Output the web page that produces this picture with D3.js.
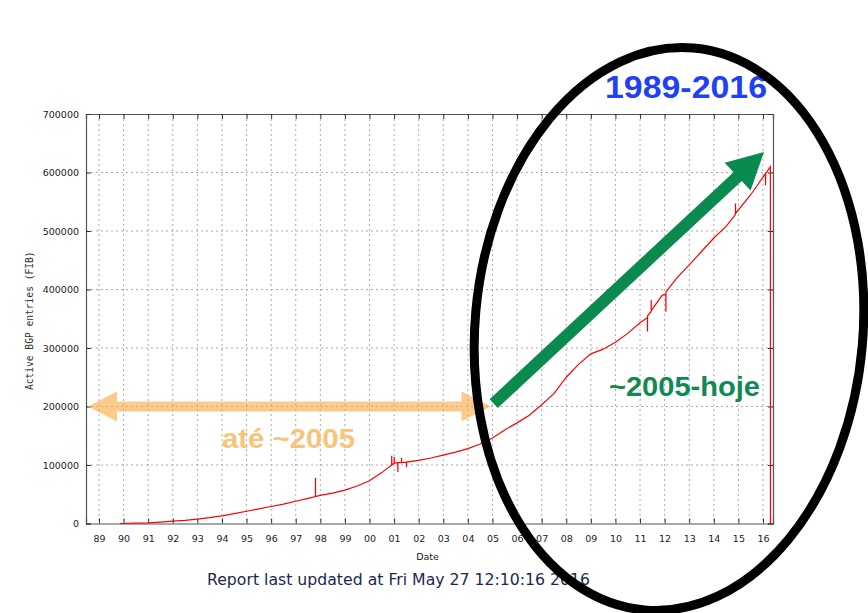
<!DOCTYPE html>
<html>
<head>
<meta charset="utf-8">
<script src="https://cdn.jsdelivr.net/npm/d3@7"></script>
<style>
  body { margin: 0; background: #fff; }
  svg { display: block; }
</style>
</head>
<body>
<div id="chart"></div>
<script>
// BGP table size (decimal year, active entries)
const years = [1989.85, 1990.5, 1991.0, 1991.5, 1992.0, 1992.5, 1993.0, 1993.5, 1994.0, 1994.5,
  1995.0, 1995.5, 1996.0, 1996.5, 1997.0, 1997.5, 1997.8, 1997.803, 1997.806, 1998.0,
  1998.5, 1999.0, 1999.5, 2000.0, 2000.5, 2000.9, 2000.903, 2000.906, 2001.0, 2001.003,
  2001.006, 2001.15, 2001.153, 2001.156, 2001.3, 2001.303, 2001.306, 2001.5, 2001.503, 2001.506,
  2002.0, 2002.5, 2003.0, 2003.5, 2004.0, 2004.5, 2005.0, 2005.5, 2006.0, 2006.5,
  2007.0, 2007.5, 2008.0, 2008.5, 2009.0, 2009.5, 2010.0, 2010.5, 2011.0, 2011.3,
  2011.303, 2011.306, 2011.45, 2011.453, 2011.456, 2011.9, 2012.05, 2012.053, 2012.056, 2012.5,
  2013.0, 2013.5, 2014.0, 2014.5, 2014.88, 2014.883, 2014.886, 2015.5, 2016.1, 2016.103,
  2016.106, 2016.3, 2016.303];
const entries = [0, 500, 1000, 2500, 4000, 5500, 7500, 10000, 13000, 17000,
  21000, 25000, 29000, 33000, 38000, 43000, 46000, 78000, 46000, 48000,
  52000, 57000, 64000, 73000, 87000, 100000, 116000, 100000, 103000, 114000,
  103000, 104000, 88000, 104000, 104000, 112000, 104000, 105000, 96000, 105000,
  108000, 112000, 117000, 122000, 128000, 136000, 146000, 160000, 172000, 185000,
  203000, 222000, 250000, 272000, 290000, 298000, 310000, 325000, 343000, 352000,
  328000, 355000, 362000, 382000, 364000, 390000, 392000, 362000, 396000, 420000,
  442000, 465000, 488000, 508000, 528000, 547000, 530000, 562000, 598000, 578000,
  598000, 610000, 0];

const yearTicks = d3.range(1989, 2017);
const yearLabels = yearTicks.map(y => String(y % 100).padStart(2, "0"));
const entryTicks = [0, 100000, 200000, 300000, 400000, 500000, 600000, 700000];

const W = 868, H = 613;
const plot = {left: 86, right: 773, top: 114, bottom: 523.5};

const svg = d3.select("#chart").append("svg")
  .attr("width", W).attr("height", H);

const x = d3.scaleLinear().domain([1988.471, 2016.407]).range([plot.left, plot.right]);
const y = d3.scaleLinear().domain([0, 700000]).range([plot.bottom, plot.top]);

const tickFont = "DejaVu Sans, sans-serif";

// dotted grid
svg.append("g")
  .selectAll("line.vx").data(yearTicks).join("line")
  .attr("x1", d => x(d)).attr("x2", d => x(d))
  .attr("y1", plot.top).attr("y2", plot.bottom)
  .attr("stroke", "#aaa").attr("stroke-width", 1).attr("stroke-dasharray", "2,3");
svg.append("g")
  .selectAll("line.hy").data(entryTicks.slice(1, -1)).join("line")
  .attr("x1", plot.left).attr("x2", plot.right)
  .attr("y1", d => y(d)).attr("y2", d => y(d))
  .attr("stroke", "#aaa").attr("stroke-width", 1).attr("stroke-dasharray", "2,3");

// axes, ticks inward and mirrored like gnuplot
svg.append("g")
  .attr("transform", `translate(0,${plot.bottom})`)
  .call(d3.axisBottom(x).tickValues(yearTicks).tickSize(-5).tickPadding(12)
    .tickFormat((d, i) => yearLabels[i]));
svg.append("g")
  .attr("transform", `translate(0,${plot.top})`)
  .call(d3.axisTop(x).tickValues(yearTicks).tickSize(-5).tickFormat(""));
svg.append("g")
  .attr("transform", `translate(${plot.left},0)`)
  .call(d3.axisLeft(y).tickValues(entryTicks).tickSize(-5).tickPadding(7).tickFormat(d3.format("d")));
svg.append("g")
  .attr("transform", `translate(${plot.right},0)`)
  .call(d3.axisRight(y).tickValues(entryTicks).tickSize(-5).tickFormat(""));

svg.selectAll(".domain").attr("stroke", "#555").attr("stroke-width", 1.2);
svg.selectAll(".tick line").attr("stroke", "#333");
svg.selectAll(".tick text")
  .attr("font-family", tickFont).attr("font-size", 9.5).attr("fill", "#222");

// the data line
svg.append("path")
  .datum(years.map((d, i) => [d, entries[i]]))
  .attr("fill", "none")
  .attr("stroke", "#ff0000")
  .attr("stroke-width", 1.2)
  .attr("d", d3.line().x(d => x(d[0])).y(d => y(d[1])));

// axis titles
svg.append("text")
  .attr("x", (plot.left + plot.right) / 2 - 2).attr("y", 560)
  .attr("text-anchor", "middle")
  .attr("font-family", tickFont).attr("font-size", 9.5).attr("fill", "#222")
  .text("Date");

svg.append("text")
  .attr("transform", `translate(33,${(plot.top + plot.bottom) / 2 + 2}) rotate(-90)`)
  .attr("text-anchor", "middle")
  .attr("font-family", "DejaVu Sans Mono, monospace").attr("font-size", 9.6).attr("fill", "#333")
  .text("Active BGP entries (FIB)");

svg.append("text")
  .attr("x", 207).attr("y", 585)
  .attr("font-family", tickFont).attr("font-size", 15).attr("fill", "#1c2850")
  .attr("textLength", 383).attr("lengthAdjust", "spacingAndGlyphs")
  .text("Report last updated at Fri May 27 12:10:16 2016");

// arrows
function arrowPath(x0, y0, x1, y1, shaft, headW, headL) {
  const dx = x1 - x0, dy = y1 - y0, len = Math.hypot(dx, dy);
  const ux = dx / len, uy = dy / len, px = -uy, py = ux;
  const pt = (a, b) => [x0 + ux * a + px * b, y0 + uy * a + py * b];
  return [pt(0, -shaft / 2), pt(len - headL, -shaft / 2), pt(len - headL, -headW / 2),
    pt(len, 0), pt(len - headL, headW / 2), pt(len - headL, shaft / 2), pt(0, shaft / 2)];
}
function doubleArrow(x0, x1, yy, shaft, headH, headL) {
  return [[x0, yy], [x0 + headL, yy - headH / 2], [x0 + headL, yy - shaft / 2],
    [x1 - headL, yy - shaft / 2], [x1 - headL, yy - headH / 2], [x1, yy],
    [x1 - headL, yy + headH / 2], [x1 - headL, yy + shaft / 2],
    [x0 + headL, yy + shaft / 2], [x0 + headL, yy + headH / 2]];
}
const poly = d3.line();

svg.append("path")
  .attr("d", poly(doubleArrow(x(1988.55), x(2004.92), y(200000), 10, 30, 29)) + "Z")
  .attr("fill", "#f9a640").attr("opacity", 0.6);

svg.append("text")
  .attr("x", 222).attr("y", 448)
  .attr("font-family", "Liberation Sans, Arial, sans-serif").attr("font-weight", "bold")
  .attr("font-size", 28).attr("fill", "#fbc37a")
  .attr("textLength", 133).attr("lengthAdjust", "spacingAndGlyphs")
  .text("até ~2005");

svg.append("path")
  .attr("d", poly(arrowPath(x(2005.05), y(205000), x(2016.04), y(635000), 12, 38, 36)) + "Z")
  .attr("fill", "#0b8a4f");

svg.append("text")
  .attr("x", 609).attr("y", 396)
  .attr("font-family", "Liberation Sans, Arial, sans-serif").attr("font-weight", "bold")
  .attr("font-size", 27).attr("fill", "#108a52")
  .attr("textLength", 151).attr("lengthAdjust", "spacingAndGlyphs")
  .text("~2005-hoje");

svg.append("text")
  .attr("x", 605).attr("y", 98)
  .attr("font-family", "Liberation Sans, Arial, sans-serif").attr("font-weight", "bold")
  .attr("font-size", 32).attr("fill", "#1f40f5")
  .attr("textLength", 162).attr("lengthAdjust", "spacingAndGlyphs")
  .text("1989-2016");

// black ellipse on top
svg.append("ellipse")
  .attr("transform", "translate(669,329) rotate(5)")
  .attr("rx", 194).attr("ry", 282)
  .attr("fill", "none").attr("stroke", "#000").attr("stroke-width", 9);
</script>
</body>
</html>
